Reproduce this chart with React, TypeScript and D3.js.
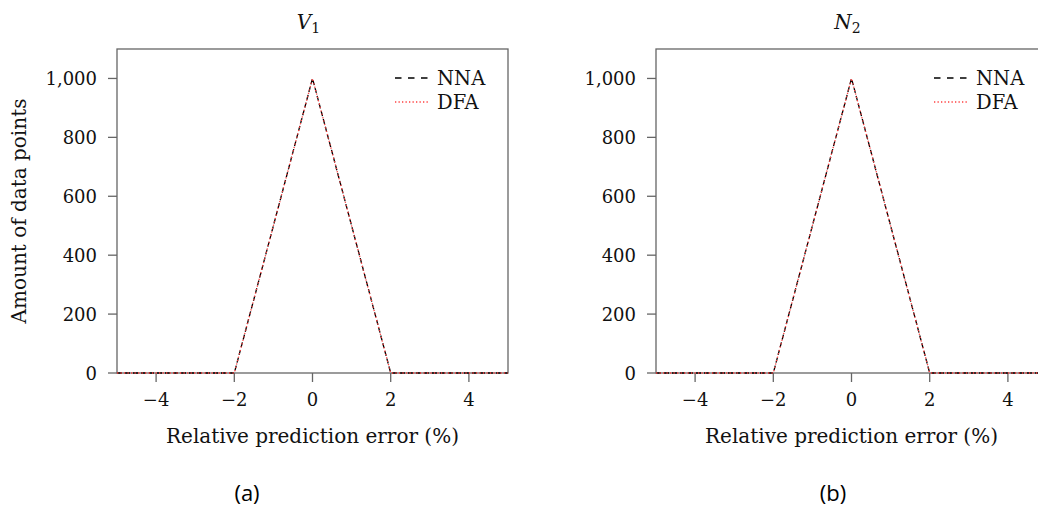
import React from "react";
import * as d3 from "d3";

const errorPct = [-5, -2, 0, 2, 5];
const nnaV1 = [0, 0, 1000, 0, 0];
const dfaV1 = [0, 0, 1000, 0, 0];
const nnaN2 = [0, 0, 1000, 0, 0];
const dfaN2 = [0, 0, 1000, 0, 0];
const xTicks = [-4, -2, 0, 2, 4];
const yTicks = [0, 200, 400, 600, 800, 1000];
const seriesNames = ["NNA", "DFA"];

const SERIF = "'DejaVu Serif', 'Liberation Serif', serif";
const FS_TICK = 18;
const FS_LABEL = 20;
const FS_LEG = 19.5;

type PanelProps = {
  ox: number;
  title: string;
  sub: string;
  nna: number[];
  dfa: number[];
  showYLabel: boolean;
};

function Panel({ ox, title, sub, nna, dfa, showYLabel }: PanelProps) {
  const left = ox;
  const right = ox + 391;
  const top = 49;
  const bottom = 373;
  const x = d3.scaleLinear().domain([-5, 5]).range([left, right]);
  const y = d3.scaleLinear().domain([0, 1100]).range([bottom, top]);
  const line = d3
    .line<number>()
    .x((_, i) => x(errorPct[i]))
    .y((d) => y(d));
  const axisColor = "#666";
  const fmt = d3.format(",");
  const cx = (left + right) / 2;
  return (
    <g>
      <text x={cx - 4} y={29} textAnchor="middle" fontFamily={SERIF} fontSize={20} fill="#111">
        <tspan fontStyle="italic">{title}</tspan>
        <tspan fontSize={14} dy={4}>{sub}</tspan>
      </text>
      <rect x={left} y={top} width={right - left} height={bottom - top} fill="none" stroke={axisColor} strokeWidth={1.3} />
      {xTicks.map((t) => (
        <g key={"x" + t}>
          <line x1={x(t)} x2={x(t)} y1={bottom} y2={bottom + 9} stroke={axisColor} strokeWidth={1.3} />
          <text x={x(t)} y={bottom + 33} textAnchor="middle" fontFamily={SERIF} fontSize={FS_TICK} fill="#111">
            {t < 0 ? "\u2212" + Math.abs(t) : String(t)}
          </text>
        </g>
      ))}
      {yTicks.map((t) => (
        <g key={"y" + t}>
          <line x1={left - 9} x2={left} y1={y(t)} y2={y(t)} stroke={axisColor} strokeWidth={1.3} />
          <text x={left - 20} y={y(t) + 7} textAnchor="end" fontFamily={SERIF} fontSize={FS_TICK} fill="#111">
            {fmt(t)}
          </text>
        </g>
      ))}
      <text x={cx} y={443} textAnchor="middle" fontFamily={SERIF} fontSize={FS_LABEL} fill="#111">
        Relative prediction error (%)
      </text>
      {showYLabel && (
        <text
          transform={`translate(${26},${(top + bottom) / 2}) rotate(-90)`}
          textAnchor="middle"
          fontFamily={SERIF}
          fontSize={FS_LABEL}
          fill="#111"
        >
          Amount of data points
        </text>
      )}
      <path d={line(nna) || ""} fill="none" stroke="#000" strokeWidth={1.3} strokeDasharray="5 3" />
      <path d={line(dfa) || ""} fill="none" stroke="#ff4040" strokeWidth={1.3} strokeDasharray="1.3 2.2" />
      {/* legend */}
      <line x1={left + 278} x2={left + 311} y1={78} y2={78} stroke="#000" strokeWidth={1.3} strokeDasharray="6.5 6.5" />
      <text x={left + 320} y={85} fontFamily={SERIF} fontSize={FS_LEG} fill="#111">{seriesNames[0]}</text>
      <line x1={left + 278} x2={left + 311} y1={102} y2={102} stroke="#ff4040" strokeWidth={1.3} strokeDasharray="1.3 2.2" />
      <text x={left + 320} y={109} fontFamily={SERIF} fontSize={FS_LEG} fill="#111">{seriesNames[1]}</text>
    </g>
  );
}

export default function App() {
  return (
    <svg
      width={1038}
      height={512}
      style={{ position: "absolute", left: 0, top: 0, background: "#fff" }}
    >
      <rect width={1038} height={512} fill="#fff" />
      <Panel ox={117} title="V" sub="1" nna={nnaV1} dfa={dfaV1} showYLabel={true} />
      <Panel ox={656} title="N" sub="2" nna={nnaN2} dfa={dfaN2} showYLabel={false} />
      <text x={247} y={501} textAnchor="middle" fontFamily="'Open Sans', 'Noto Sans', sans-serif" fontSize={22}>(a)</text>
      <text x={833} y={501} textAnchor="middle" fontFamily="'Open Sans', 'Noto Sans', sans-serif" fontSize={22}>(b)</text>
    </svg>
  );
}
